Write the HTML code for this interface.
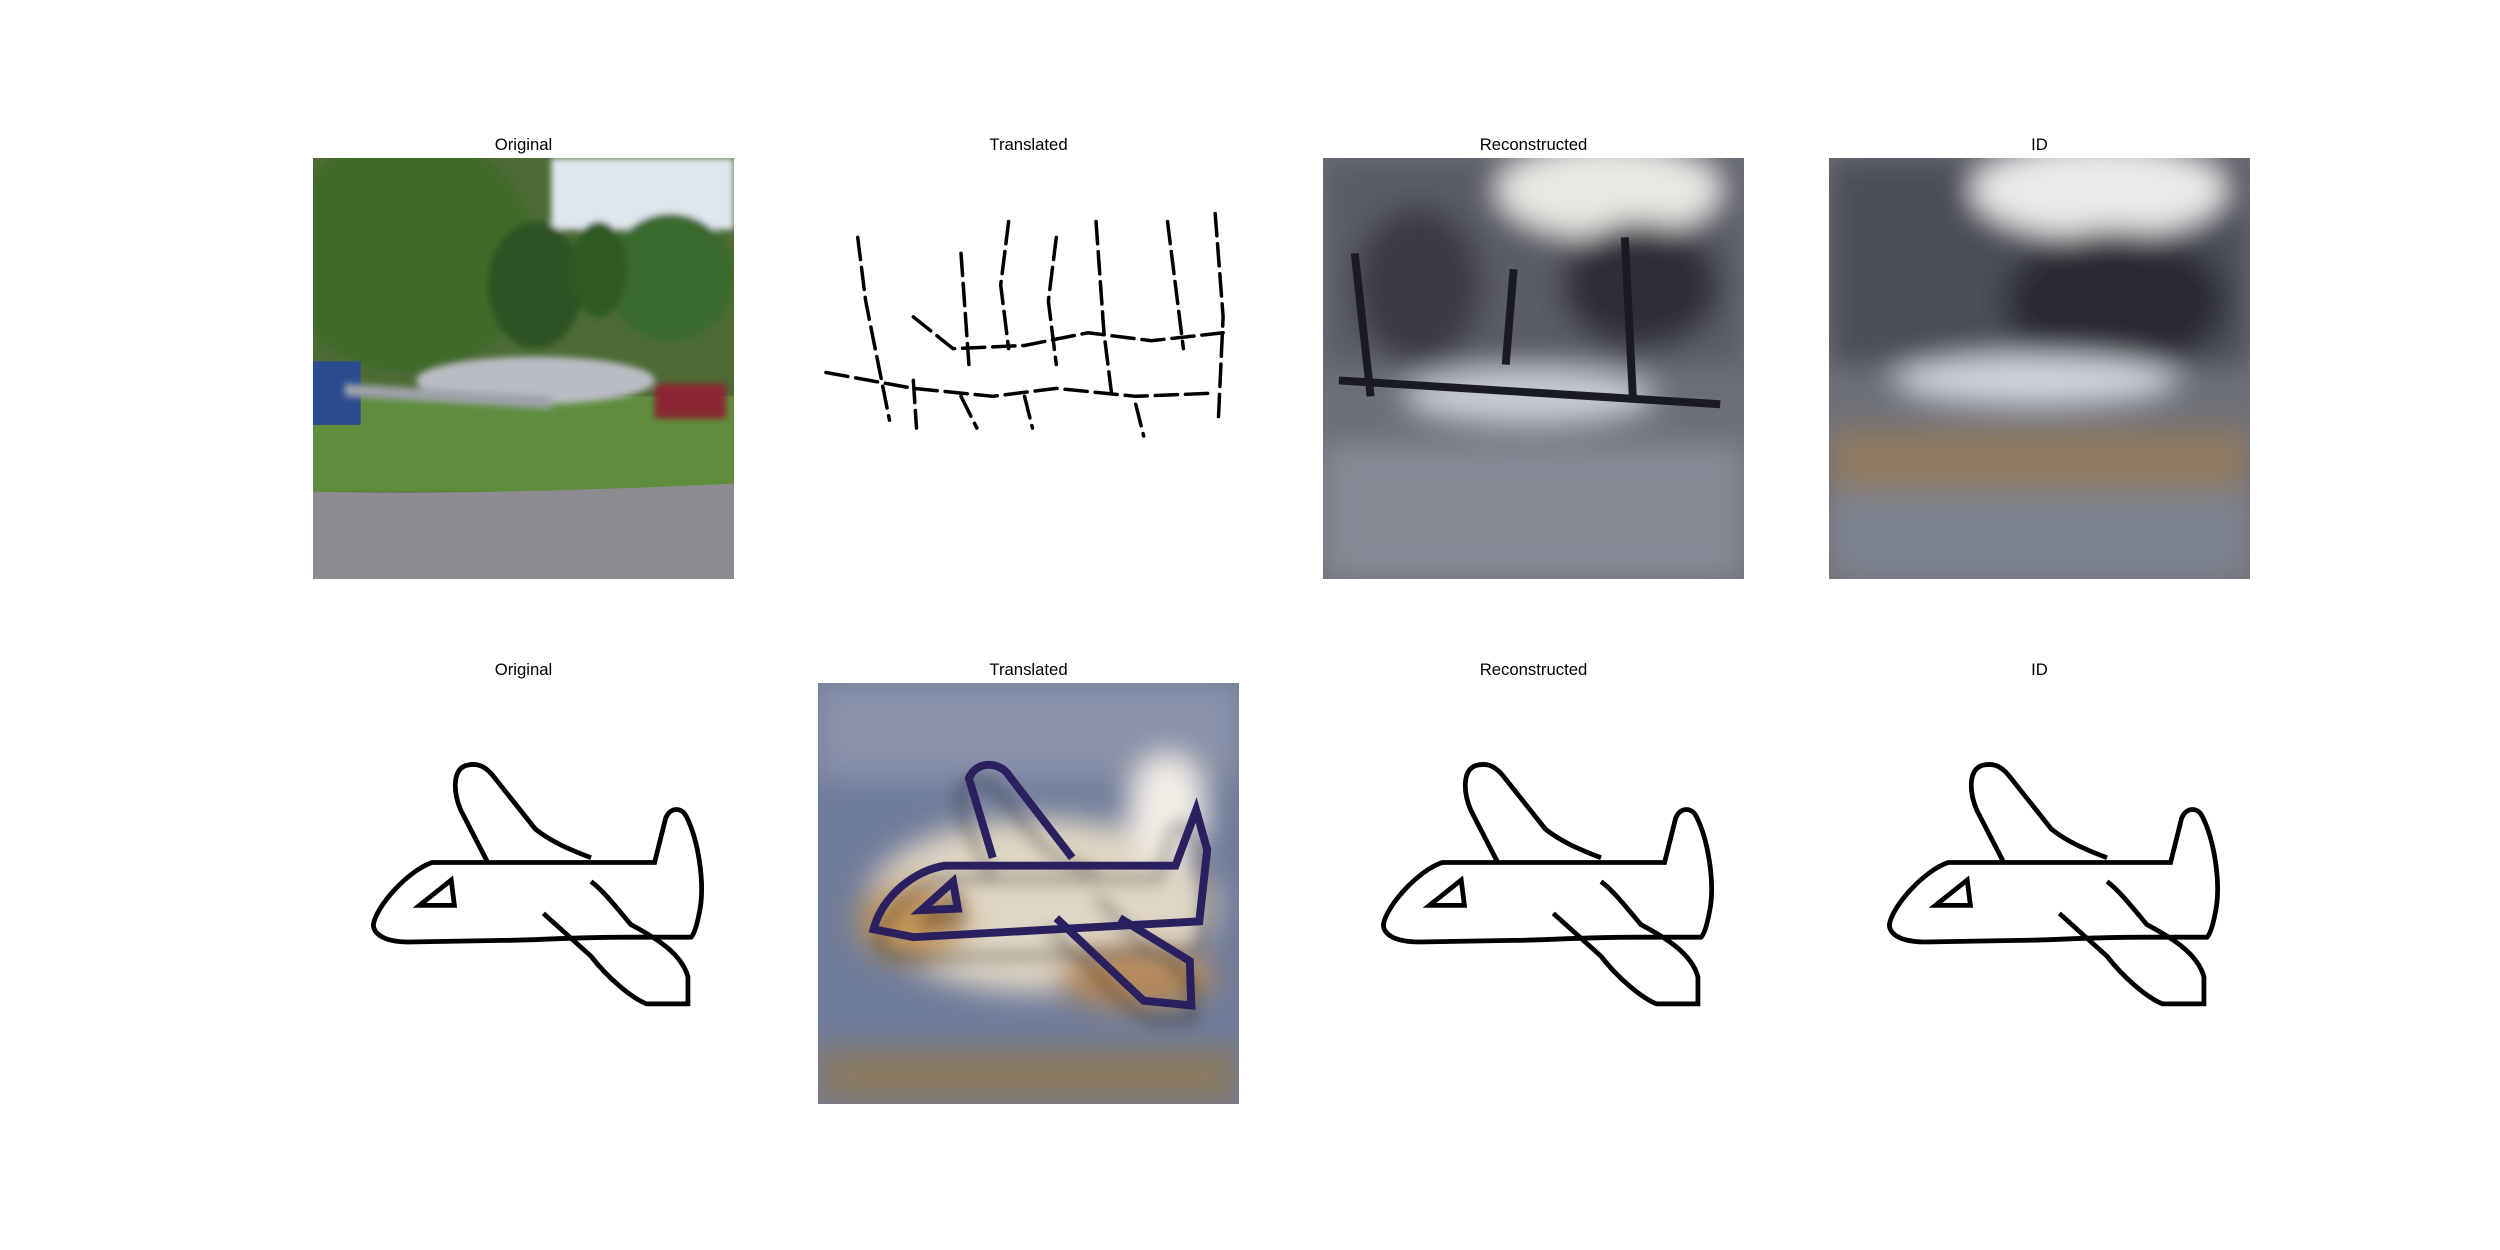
<!DOCTYPE html>
<html><head><meta charset="utf-8"><style>
body{margin:0;background:#fff;width:2500px;height:1250px;overflow:hidden;position:relative;font-family:"Liberation Sans","DejaVu Sans",sans-serif}
.t{position:absolute;width:421px;text-align:center;font-size:16.7px;color:#000}
svg.p{position:absolute;width:421px;height:421px}
</style></head><body>
<svg width="0" height="0" style="position:absolute"><defs>
<g id="plane">
<path d="M38,152 C40,140 60,118 75,113 L215,113 L222,85 C225,78 232,78 235,84 C243,100 246,125 244,140 C242,152 240,158 238,160 L200,160 C160,160 140,162 120,162 L60,163 C45,163 38,158 38,152 Z" fill="none" stroke="#000" stroke-width="3"/>
<path d="M110,113 L93,80 C88,68 88,55 96,52 C103,50 108,52 113,58 L140,92 C150,100 162,105 175,110" fill="none" stroke="#000" stroke-width="3"/>
<path d="M145,145 L175,172 C185,185 200,198 210,202 L236,202 L236,185 C232,170 215,160 200,152 C190,140 182,130 175,125" fill="none" stroke="#000" stroke-width="3"/>
<path d="M67,140 L87,124 L89,140 Z" fill="none" stroke="#000" stroke-width="3"/>
</g>
<filter id="bl"><feGaussianBlur stdDeviation="5"/></filter>
<filter id="bl2"><feGaussianBlur stdDeviation="9"/></filter>
<filter id="bl1"><feGaussianBlur stdDeviation="2"/></filter>
</defs></svg>

<div class="t" style="left:313px;top:135px">Original</div>
<div class="t" style="left:818px;top:135px">Translated</div>
<div class="t" style="left:1323px;top:135px">Reconstructed</div>
<div class="t" style="left:1829px;top:135px">ID</div>
<div class="t" style="left:313px;top:660px">Original</div>
<div class="t" style="left:818px;top:660px">Translated</div>
<div class="t" style="left:1323px;top:660px">Reconstructed</div>
<div class="t" style="left:1829px;top:660px">ID</div>

<svg class="p" style="left:313px;top:158px" viewBox="0 0 265 265">
<rect width="265" height="265" fill="#4d6b35"/>
<g filter="url(#bl1)"><rect x="150" y="0" width="115" height="45" fill="#dfe6ec"/>
<ellipse cx="60" cy="60" rx="80" ry="75" fill="#3f6a2c"/><ellipse cx="140" cy="80" rx="30" ry="40" fill="#2e5220"/><ellipse cx="225" cy="75" rx="40" ry="40" fill="#3b6a2e"/><ellipse cx="180" cy="70" rx="18" ry="30" fill="#2f5a24"/></g>
<rect x="0" y="150" width="265" height="60" fill="#5f8d3d"/>
<path d="M0,210 C100,212 200,208 265,205 L265,265 L0,265Z" fill="#8c8c90"/>
<rect x="0" y="128" width="30" height="40" fill="#2a4b8f"/>
<g filter="url(#bl1)"><ellipse cx="140" cy="140" rx="75" ry="15" fill="#b9bcc4"/>
<path d="M20,142 L150,150 L150,158 L20,150Z" fill="#9ea2aa"/>
<rect x="215" y="142" width="45" height="22" fill="#8a2530"/></g>
</svg>

<svg class="p" style="left:818px;top:158px" viewBox="0 0 265 265">
<rect width="265" height="265" fill="#fff"/>
<g stroke="#000" stroke-width="2.2" fill="none" stroke-linecap="round" stroke-dasharray="14 5">
<path d="M25,50 L30,90 L40,140 L45,165"/><path d="M60,100 L85,120 L130,118 L170,110 L210,115 L255,110"/><path d="M90,60 L95,130"/><path d="M120,40 L115,80 L120,120"/><path d="M150,50 L145,90 L150,130"/><path d="M175,40 L180,110 L185,150"/><path d="M220,40 L225,80 L230,120"/><path d="M250,35 L255,100 L252,165"/>
<path d="M5,135 L60,145 L110,150 L150,145 L200,150 L250,148"/><path d="M90,150 L100,170"/><path d="M130,150 L135,170"/><path d="M200,155 L205,175"/><path d="M60,140 L62,170"/>
</g>
</svg>

<svg class="p" style="left:1323px;top:158px" viewBox="0 0 265 265">
<rect width="265" height="265" fill="#6d6f78"/>
<g filter="url(#bl2)"><rect width="265" height="130" fill="#5a5c66"/><ellipse cx="180" cy="20" rx="70" ry="30" fill="#e8e8e4"/><ellipse cx="60" cy="80" rx="40" ry="50" fill="#3b3b45"/><ellipse cx="200" cy="80" rx="50" ry="40" fill="#2f2f3a"/><ellipse cx="130" cy="150" rx="80" ry="18" fill="#c8ccd6"/><rect y="180" width="265" height="85" fill="#868a95"/></g>
<g stroke="#1a1a22" stroke-width="5" fill="none"><path d="M20,60 L30,150"/><path d="M120,70 L115,130"/><path d="M190,50 L195,150"/><path d="M10,140 L250,155"/></g>
</svg>

<svg class="p" style="left:1829px;top:158px" viewBox="0 0 265 265">
<rect width="265" height="265" fill="#6e7078"/>
<g filter="url(#bl2)"><rect width="265" height="130" fill="#4c4d58"/><ellipse cx="170" cy="20" rx="80" ry="30" fill="#eaeaea"/><ellipse cx="180" cy="90" rx="70" ry="45" fill="#2c2c36"/><ellipse cx="130" cy="140" rx="90" ry="16" fill="#d0d4dc"/><rect y="170" width="265" height="40" fill="#8f7a62"/><rect y="210" width="265" height="55" fill="#7d838f"/></g>
</svg>

<svg class="p" style="left:313px;top:683px" viewBox="0 0 265 265">
<rect width="265" height="265" fill="#fff"/><use href="#plane"/>
</svg>

<svg class="p" style="left:818px;top:683px" viewBox="0 0 265 265">
<rect width="265" height="265" fill="#6f7c9a"/>
<g filter="url(#bl2)"><rect width="265" height="60" fill="#8a93aa"/><ellipse cx="140" cy="140" rx="110" ry="55" fill="#e0d6c4"/><ellipse cx="60" cy="150" rx="35" ry="25" fill="#c29458"/><ellipse cx="200" cy="185" rx="50" ry="20" fill="#b5895a"/><ellipse cx="220" cy="80" rx="25" ry="35" fill="#f2eee6"/><rect y="230" width="265" height="35" fill="#8a7a62"/></g>
<g transform="translate(0,10)" style="filter:url(#bl)"><use href="#plane" opacity="0.6"/></g>
<g stroke="#2a2060" stroke-width="5" fill="none"><path d="M35,155 C40,135 60,118 80,115 L225,115 L238,80 L245,105 L240,150 L60,160 Z"/><path d="M110,110 L95,60 C100,48 115,50 120,58 L160,110"/><path d="M150,148 L205,200 L235,203 L234,175 L190,148"/><path d="M65,143 L85,125 L88,142Z"/></g>
</svg>

<svg class="p" style="left:1323px;top:683px" viewBox="0 0 265 265">
<rect width="265" height="265" fill="#fff"/><use href="#plane"/>
</svg>

<svg class="p" style="left:1829px;top:683px" viewBox="0 0 265 265">
<rect width="265" height="265" fill="#fff"/><use href="#plane"/>
</svg>
</body></html>
